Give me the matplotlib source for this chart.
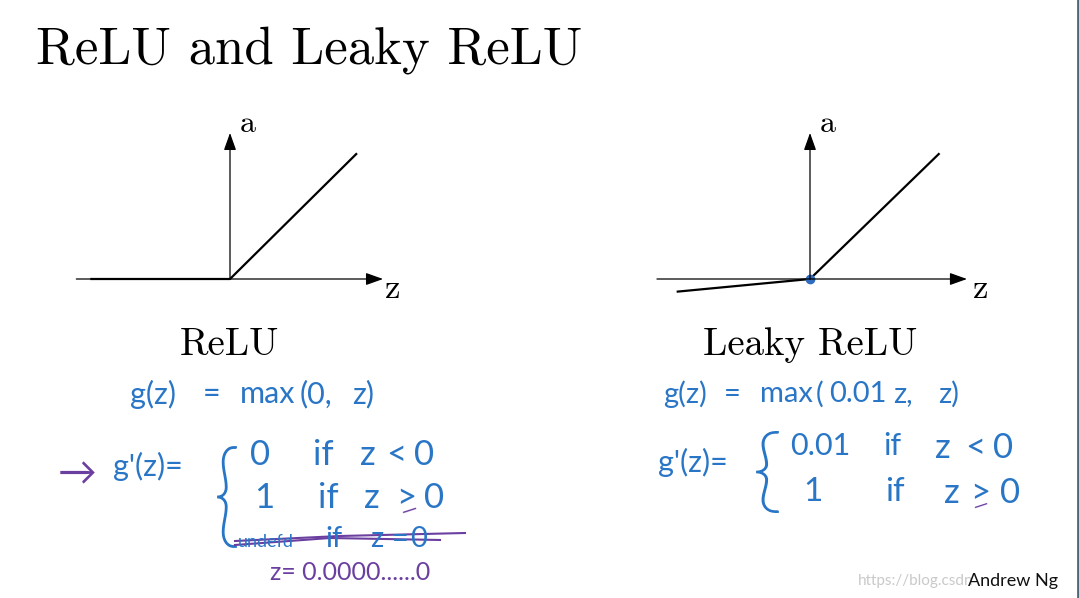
import matplotlib
matplotlib.use('Agg')
import matplotlib.pyplot as plt
from matplotlib.textpath import TextPath
from matplotlib.font_manager import FontProperties
from matplotlib.patches import PathPatch
from matplotlib.transforms import Affine2D

# ReLU curve (drawn in slide units, origin at the axes crossing)
relu_z = [-1.10, 0.0, 1.00]
relu_a = [0.00, 0.0, 0.99]

# Leaky ReLU curve (the slide exaggerates the small negative slope)
leaky_z = [-1.05, 0.0, 1.02]
leaky_a = [-0.10, 0.0, 0.99]

# panel labels
panel_names = ['ReLU', 'Leaky ReLU']

W, H = 1079, 598
SCALE = 127.0  # pixels per unit in the small plots
BLUE = '#2a76c6'
PURPLE = '#6b3fa0'
HAND = ['Lato', 'DejaVu Sans']

fig = plt.figure(figsize=(W / 100, H / 100), dpi=100)
fig.patch.set_facecolor('white')


def px_axes(ox, oy, x0, x1, y0, y1):
    """Axes covering pixel box x0..x1, y0..y1 with data origin at pixel (ox, oy)."""
    ax = fig.add_axes([x0 / W, 1 - y1 / H, (x1 - x0) / W, (y1 - y0) / H])
    ax.set_xlim((x0 - ox) / SCALE, (x1 - ox) / SCALE)
    ax.set_ylim((oy - y1) / SCALE, (oy - y0) / SCALE)
    ax.axis('off')
    ax.patch.set_alpha(0)
    return ax


def draw_axes(ax, zmin, zmax, amax):
    arrow = dict(arrowstyle='-|>,head_length=0.7,head_width=0.25',
                 mutation_scale=15, lw=0.9, color='black',
                 shrinkA=0, shrinkB=0)
    ax.annotate('', xy=(zmax, 0), xytext=(zmin, 0), arrowprops=arrow)
    ax.annotate('', xy=(0, amax), xytext=(0, 0), arrowprops=arrow)


# left panel: ReLU
ax1 = px_axes(230, 279, 60, 420, 110, 320)
draw_axes(ax1, -1.21, 1.205, 1.15)
ax1.plot(relu_z, relu_a, color='black', lw=1.6, solid_capstyle='butt')
ax1.text(0.08, 1.16, 'a', fontsize=23, family='cmr10', ha='left', va='baseline')
ax1.text(1.22, -0.15, 'z', fontsize=25, family='cmr10', ha='left', va='baseline')

# right panel: Leaky ReLU
ax2 = px_axes(810, 279, 640, 1000, 110, 320)
draw_axes(ax2, -1.205, 1.236, 1.15)
ax2.plot(leaky_z, leaky_a, color='black', lw=1.6, solid_capstyle='butt')
ax2.plot([0], [0], 'o', color='#2f6cc0', ms=6)
ax2.text(0.08, 1.16, 'a', fontsize=23, family='cmr10', ha='left', va='baseline')
ax2.text(1.28, -0.15, 'z', fontsize=25, family='cmr10', ha='left', va='baseline')

# overlay in pixel coordinates for the slide text
ov = fig.add_axes([0, 0, 1, 1])
ov.set_xlim(0, W)
ov.set_ylim(H, 0)
ov.axis('off')
ov.patch.set_alpha(0)

ov.text(36, 63, 'ReLU and Leaky ReLU', fontsize=38, family='cmr10',
        ha='left', va='baseline')
ov.text(229, 355, panel_names[0], fontsize=28, family='cmr10', ha='center', va='baseline')
ov.text(810, 355, panel_names[1], fontsize=28, family='cmr10', ha='center', va='baseline')

hw = dict(family=HAND, color=BLUE, va='center', ha='left')
pw = dict(family=HAND, color=PURPLE, va='center', ha='left')


def words(items, y, size, style=hw):
    for x, s in items:
        ov.text(x, y, s, fontsize=size, **style)


def brace(x0, x1, y0, y1):
    # tall narrow hand-drawn style brace, stretched to the given pixel box
    tp = TextPath((0, 0), '{', size=1, prop=FontProperties(family='Lato', weight='light'))
    ext = tp.get_extents()
    tr = (Affine2D().translate(-ext.x0, -ext.y0)
          .scale((x1 - x0) / ext.width, -(y1 - y0) / ext.height)
          .translate(x0, y1))
    ov.add_patch(PathPatch(tr.transform_path(tp), facecolor=BLUE, lw=1.3,
                           edgecolor=BLUE))


# handwritten notes, left
words([(130, 'g(z)'), (203, '='), (240, 'max'), (300, '(0,'), (352, 'z)')], 394, 22)
ov.text(58, 474, '→', fontsize=28, **pw)
ov.text(113, 466, "g'(z)=", fontsize=22, **hw)
brace(218, 236, 447, 547)
words([(250, '0'), (313, 'if'), (360, 'z'), (386, '<'), (414, '0')], 455, 25)
words([(254, '1'), (318, 'if'), (364, 'z'), (396, '>'), (424, '0')], 498, 25)
ov.text(398, 510, '—', fontsize=15, rotation=18, **pw)
ov.text(238, 542, 'undefd', fontsize=13, **hw)
words([(325, 'if'), (370, 'z'), (392, '='), (410, '0')], 539, 21)
ov.plot([235, 330, 440], [545, 538, 540], color=PURPLE, lw=1.5)
ov.plot([235, 340, 465], [541, 536, 533], color=PURPLE, lw=1.5)
ov.text(270, 573, 'z= 0.0000......0', fontsize=18, **pw)

# handwritten notes, right
words([(663, 'g(z)'), (724, '='), (760, 'max'), (816, '('), (829, '0.01'), (893, 'z,'),
       (938, 'z)')], 394, 21)
ov.text(658, 462, "g'(z)=", fontsize=22, **hw)
brace(757, 778, 432, 512)
words([(790, '0.01'), (883, 'if')], 446, 22)
words([(935, 'z'), (965, '<'), (993, '0')], 448, 25)
words([(803, '1'), (885, 'if')], 492, 24)
words([(944, 'z'), (970, '>'), (1000, '0')], 493, 25)
ov.text(971, 505, '—', fontsize=14, rotation=18, **pw)

# footer
ov.text(858, 581, 'https://blog.csdn', fontsize=11, family=HAND,
        color='#c9c9c9', va='center')
ov.text(968, 581, 'Andrew Ng', fontsize=13, family=HAND, color='#111111', va='center')
ov.axvline(1077.5, color='#4a6878', lw=2)

fig.savefig('out.png', dpi=100, facecolor='white')
